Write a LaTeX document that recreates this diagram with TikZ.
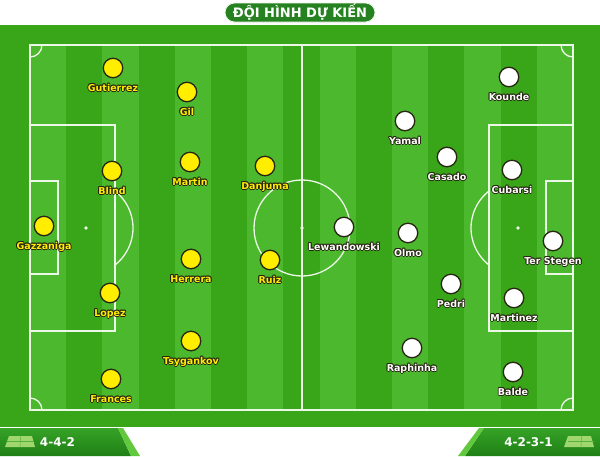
\documentclass[tikz,border=0pt]{standalone}
\usepackage{fontspec}
\usetikzlibrary{positioning}
\newfontfamily\plfont{DejaVu Sans}
\definecolor{fieldD}{RGB}{57,166,25}
\definecolor{fieldL}{RGB}{76,184,46}
\definecolor{titleG}{RGB}{38,130,32}
\definecolor{tabTop}{RGB}{54,162,38}
\definecolor{tabBot}{RGB}{30,128,22}
\definecolor{sliver}{RGB}{98,200,62}
\definecolor{iconG}{RGB}{160,214,110}
\definecolor{shirtA}{RGB}{255,238,0}
\definecolor{rim}{RGB}{38,38,18}
\definecolor{chalk}{RGB}{236,248,230}
% outlined player names
\newcommand\rimcopy[3]{\makebox[0pt][l]{\hspace*{#1}\raisebox{#2}{\textcolor{rim}{#3}}}}
\newcommand\rimtxt[2]{\rimcopy{-.9pt}{0pt}{#2}\rimcopy{.9pt}{0pt}{#2}\rimcopy{0pt}{.9pt}{#2}\rimcopy{0pt}{-.9pt}{#2}%
  \rimcopy{-.65pt}{-.65pt}{#2}\rimcopy{.65pt}{-.65pt}{#2}\rimcopy{-.65pt}{.65pt}{#2}\rimcopy{.65pt}{.65pt}{#2}\textcolor{#1}{#2}}

\tikzset{plA/.style={circle,draw=rim,line width=1.3pt,fill=shirtA,inner sep=0pt,minimum size=19.5pt},
         plB/.style={plA,fill=white},
         nmlab/.style={font=\plfont\bfseries\fontsize{9.5}{10}\selectfont,inner sep=0pt,text height=7pt,text depth=2pt},
         chalkline/.style={draw=chalk,line width=1.3pt},
         tabtxt/.style={font=\plfont\bfseries\fontsize{12}{13}\selectfont,text=white,inner sep=0pt}}

\begin{document}
\begin{tikzpicture}[x=1pt,y=-1pt]
  \useasboundingbox (0,0) rectangle (600,456);
  \fill[white] (0,0) rectangle (600,456);
  % field and stripes
  \fill[fieldD] (0,25) rectangle (600,427);
  \foreach \k in {0,2,...,14} \fill[fieldL] ({30+\k*36.2},45) rectangle ++(36.2,365);
  % pitch markings
  \draw[chalkline] (30,45) rectangle (573,410);
  \draw[chalkline] (302,45) -- (302,410);
  \draw[chalkline] (302,228) circle[radius=48];
  \fill[chalk] (302,228) circle[radius=1.8];
  \draw[chalkline] (30,125) rectangle (115,331);
  \draw[chalkline] (30,181) rectangle (58,274);
  \fill[chalk] (86,228) circle[radius=1.8];
  \draw[chalkline] ([shift={(-52:47)}]86,228) arc[start angle=-52,end angle=52,radius=47];
  \draw[chalkline] (489,125) rectangle (573,331);
  \draw[chalkline] (546,181) rectangle (573,274);
  \fill[chalk] (518,228) circle[radius=1.8];
  \draw[chalkline] ([shift={(128:47)}]518,228) arc[start angle=128,end angle=232,radius=47];
  \draw[chalkline] (42,45) arc[start angle=0,end angle=90,radius=12];
  \draw[chalkline] (561,45) arc[start angle=180,end angle=90,radius=12];
  \draw[chalkline] (42,410) arc[start angle=0,end angle=-90,radius=12];
  \draw[chalkline] (561,410) arc[start angle=180,end angle=270,radius=12];
  % title
  \node[draw=chalk,line width=0.8pt,fill=titleG,rounded corners=9.5pt,minimum width=150pt,minimum height=19pt,
        text=white,font=\plfont\bfseries\fontsize{13}{14}\selectfont,inner sep=0pt] (title) at (300,12.5) {ĐỘI HÌNH DỰ KIẾN};
  % home side, 4-4-2
  \foreach \id/\px/\py/\nm in {gazzaniga/44/226/Gazzaniga, gutierrez/113/68/Gutierrez, blind/112/171/Blind,
      lopez/110/293/Lopez, frances/111/379/Frances, gil/187/92/Gil, martin/190/162/Martin,
      herrera/191/259/Herrera, tsygankov/191/341/Tsygankov, danjuma/265/166/Danjuma, ruiz/270/260/Ruiz} {
    \node[plA] (\id) at (\px,\py) {};
    \node[nmlab,below=5.5pt of \id] (\id-n) {\rimtxt{shirtA}{\nm}};
  }
  % away side, 4-2-3-1
  \foreach \id/\px/\py/\nm in {terstegen/553/241/Ter Stegen, kounde/509/77/Kounde, cubarsi/512/170/Cubarsi,
      martinez/514/298/Martinez, balde/513/372/Balde, casado/447/157/Casado, pedri/451/284/Pedri,
      yamal/405/121/Yamal, olmo/408/233/Olmo, raphinha/412/348/Raphinha, lewandowski/344/227/Lewandowski} {
    \node[plB] (\id) at (\px,\py) {};
    \node[nmlab,below=5.5pt of \id] (\id-n) {\rimtxt{white}{\nm}};
  }
  % formation tabs
  \shade[top color=tabTop,bottom color=tabBot] (0,428) -- (118,428) -- (131,456) -- (0,456) -- cycle;
  \fill[sliver] (118,428) -- (123,428) -- (140,456) -- (131,456) -- cycle;
  \shade[top color=tabTop,bottom color=tabBot] (484,428) -- (600,428) -- (600,456) -- (465,456) -- cycle;
  \fill[sliver] (479,428) -- (484,428) -- (465,456) -- (458,456) -- cycle;
  \fill[iconG] (9,436) -- (32,436) -- (35,447) -- (5,447) -- cycle;
  \fill[iconG] (568,436) -- (591,436) -- (594,447) -- (564,447) -- cycle;
  \foreach \ix in {0,561} {
    \draw[tabTop!70!iconG,line width=0.4pt] (\ix+7,441.5) -- (\ix+33,441.5);
    \draw[tabTop!70!iconG,line width=0.4pt] (\ix+20.5,436) -- (\ix+20,447);
  }
  \node[tabtxt] (formA) at (57.5,442) {4-4-2};
  \node[tabtxt] (formB) at (528.5,442) {4-2-3-1};
\end{tikzpicture}
\end{document}
